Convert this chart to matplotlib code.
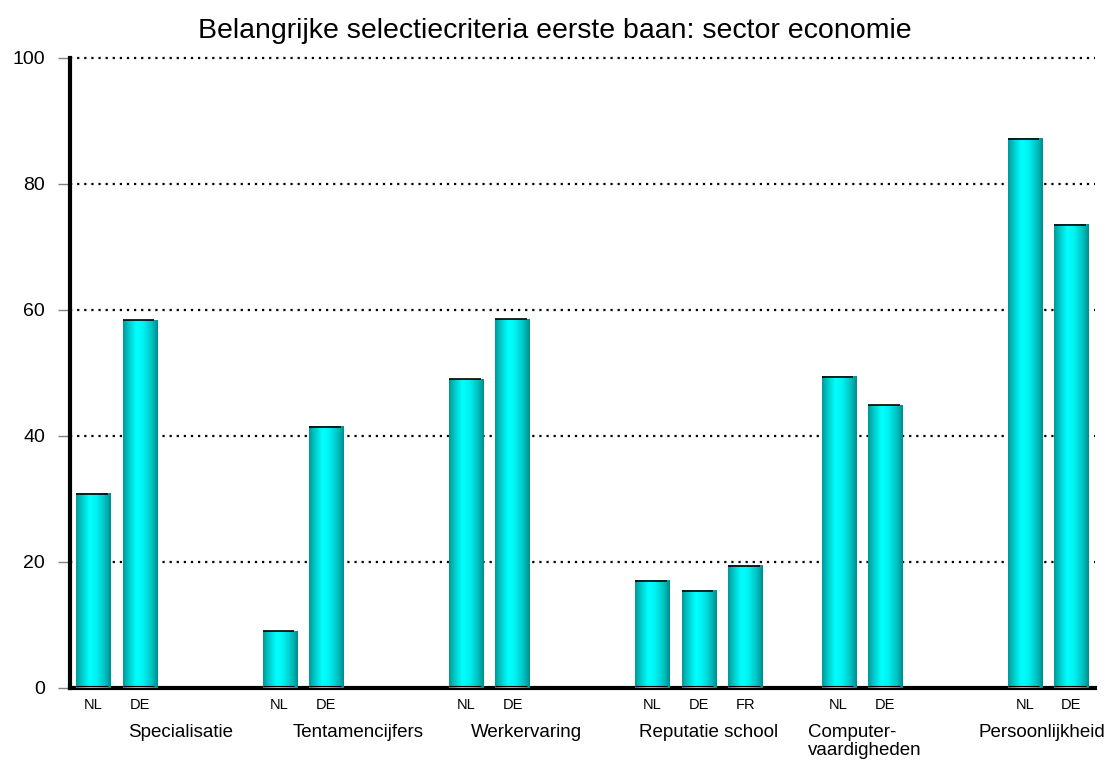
import numpy as np
import matplotlib
matplotlib.use("Agg")
import matplotlib.pyplot as plt
from matplotlib.colors import LinearSegmentedColormap

plt.rcParams['font.family'] = ['Liberation Sans', 'DejaVu Sans']

title = "Belangrijke selectiecriteria eerste baan: sector economie"
categories = ["Specialisatie", "Tentamencijfers", "Werkervaring",
              "Reputatie school", "Computer-\nvaardigheden", "Persoonlijkheid"]
countries = [["NL", "DE"], ["NL", "DE"], ["NL", "DE"],
             ["NL", "DE", "FR"], ["NL", "DE"], ["NL", "DE"]]
values = [[30.8, 58.4], [9.0, 41.5], [49.0, 58.5],
          [17.0, 15.4, 19.4], [49.4, 44.9], [87.2, 73.5]]
yticks = [0, 20, 40, 60, 80, 100]

# slot layout: each group starts at 4-slot intervals
group_start = [0, 4, 8, 12, 16, 20]
label_x = [0.74, 4.29, 8.1, 11.71, 15.34, 19.0]

fig = plt.figure(figsize=(11.09, 7.63), dpi=100)
ax = fig.add_axes([0.0631, 0.0983, 0.924, 0.8257])

xs, hs, labs = [], [], []
for gs, cs, vs in zip(group_start, countries, values):
    for i, (c, v) in enumerate(zip(cs, vs)):
        xs.append(gs + i)
        hs.append(v)
        labs.append(c)

width = 0.73
bars = ax.bar(xs, hs, width=width, color='none', edgecolor='none', zorder=3)

cmap = LinearSegmentedColormap.from_list('cyl', [
    (0.0, (0.0, 0.60, 0.60)),
    (0.15, (0.0, 0.78, 0.78)),
    (0.38, (0.0, 1.0, 1.0)),
    (0.58, (0.0, 0.95, 0.95)),
    (0.85, (0.0, 0.74, 0.74)),
    (1.0, (0.0, 0.55, 0.55)),
])
grad = np.linspace(0, 1, 64).reshape(1, -1)
for b in bars:
    x0 = b.get_x()
    w = b.get_width()
    h = b.get_height()
    ax.imshow(grad, cmap=cmap, aspect='auto', extent=(x0, x0 + w, 0, h),
              zorder=3, interpolation='bicubic')
    ax.plot([x0, x0 + w * 0.93], [h, h], color='black', lw=1.2, zorder=4,
            solid_capstyle='butt')
    ax.plot([x0, x0 + w * 0.93], [0.3, 0.3], color='black', lw=0.8, zorder=4,
            solid_capstyle='butt')

ax.set_xlim(-0.5, 21.5)
ax.set_ylim(0, 100)
ax.set_yticks(yticks)
ax.set_yticklabels([str(t) for t in yticks], fontsize=14)
for t in yticks[1:]:
    ax.axhline(t, color='black', lw=1.6, ls=(0, (1, 2.2)), zorder=1,
               clip_on=False)

ax.set_xticks(xs)
ax.set_xticklabels(labs, fontsize=10.5)
ax.tick_params(axis='x', length=0, pad=7)
ax.tick_params(axis='y', length=9, width=1.0, color='#808080',
               direction='out', pad=9)

for s in ['top', 'right']:
    ax.spines[s].set_visible(False)
for s in ['left', 'bottom']:
    ax.spines[s].set_linewidth(3)
    ax.spines[s].set_zorder(2)

for lx, cat in zip(label_x, categories):
    ax.text(lx, -5.7, cat, ha='left', va='top', fontsize=13.5,
            transform=ax.transData, linespacing=1.05, clip_on=False)

fig.text(0.5, 0.96, title, ha='center', va='center', fontsize=20.5)

fig.savefig("out.png", dpi=100)
